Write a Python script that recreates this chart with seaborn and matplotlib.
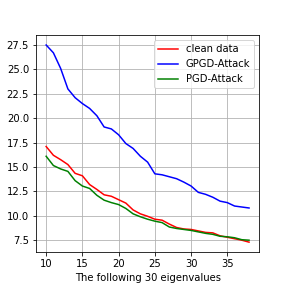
import pandas as pd
import seaborn as sns
import matplotlib
matplotlib.use('Agg')
import matplotlib.pyplot as plt

eigen_idx = list(range(10, 39))
clean_data = [17.1, 16.2, 15.75, 15.25, 14.35, 14.1, 13.2, 12.7, 12.15, 12.0,
              11.65, 11.3, 10.6, 10.2, 9.95, 9.65, 9.55, 9.15, 8.8, 8.65,
              8.6, 8.45, 8.3, 8.25, 7.95, 7.8, 7.65, 7.5, 7.3]
gpgd_attack = [27.5, 26.7, 25.1, 23.0, 22.1, 21.5, 21.0, 20.25, 19.1, 18.9,
               18.3, 17.4, 16.9, 16.1, 15.5, 14.3, 14.2, 14.0, 13.8, 13.45,
               13.05, 12.4, 12.2, 11.9, 11.5, 11.35, 11.0, 10.9, 10.8]
pgd_attack = [16.1, 15.15, 14.8, 14.55, 13.6, 13.05, 12.8, 12.1, 11.6, 11.35,
              11.15, 10.75, 10.2, 9.9, 9.65, 9.45, 9.3, 8.85, 8.7, 8.6,
              8.5, 8.35, 8.2, 8.1, 7.9, 7.85, 7.75, 7.55, 7.5]

names = ['clean data', 'GPGD-Attack', 'PGD-Attack']
colors = ['r', 'b', 'g']

df = pd.DataFrame({
    'x': eigen_idx * 3,
    'value': clean_data + gpgd_attack + pgd_attack,
    'series': [n for n in names for _ in eigen_idx],
})

fig, ax = plt.subplots(figsize=(4, 4), dpi=72)
fig.subplots_adjust(left=0.125, right=0.9, bottom=0.125, top=0.878)
sns.lineplot(data=df, x='x', y='value', hue='series', palette=colors, ax=ax)
ax.grid(True)
ax.set_xlabel('The following 30 eigenvalues')
ax.set_ylabel('')
ax.set_xticks([10, 15, 20, 25, 30, 35])
ax.set_yticks([7.5, 10.0, 12.5, 15.0, 17.5, 20.0, 22.5, 25.0, 27.5])
ax.legend(loc='upper right')
plt.savefig('out.png', dpi=72)
